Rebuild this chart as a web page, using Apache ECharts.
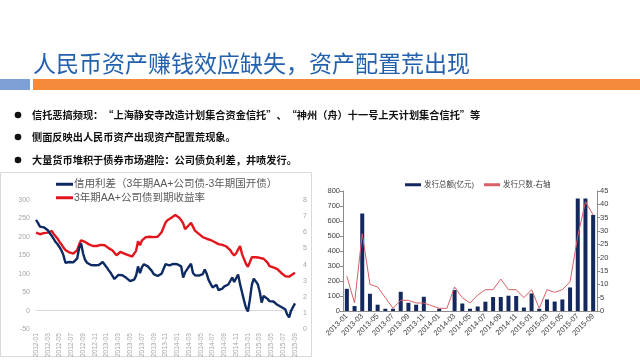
<!DOCTYPE html>
<html><head><meta charset="utf-8">
<script src="https://cdn.jsdelivr.net/npm/echarts@6/dist/echarts.min.js"></script>
<style>html,body{margin:0;padding:0;background:#fff;}#c{width:640px;height:360px;}</style>
</head><body><div id="c"></div>
<script>
// ---------- slide text ----------
const titleText = '人民币资产赚钱效应缺失，资产配置荒出现';
const bulletTexts = [
  '信托恶搞频现：“上海静安寺改造计划集合资金信托”、“神州（舟）十一号上天计划集合信托”等',
  '侧面反映出人民币资产出现资产配置荒现象。',
  '大量货币堆积于债券市场避险：公司债负利差，井喷发行。'
];

// ---------- left chart ----------
const spreadName = '信用利差（3年期AA+公司债-3年期国开债）';
const yieldName = '3年期AA+公司债到期收益率';
const spreadMonths = ['2012-01','2012-02','2012-03','2012-04','2012-05','2012-06','2012-07','2012-08','2012-09','2012-10','2012-11','2012-12',
  '2013-01','2013-02','2013-03','2013-04','2013-05','2013-06','2013-07','2013-08','2013-09','2013-10','2013-11','2013-12',
  '2014-01','2014-02','2014-03','2014-04','2014-05','2014-06','2014-07','2014-08','2014-09','2014-10','2014-11','2014-12',
  '2015-01','2015-02','2015-03','2015-04','2015-05','2015-06','2015-07','2015-08','2015-09'];
const sampleDays = ['01','11','21'];
// spread in bp (left axis), three readings per month
const spreadValues = [
  246,238,228, 230,226,222, 218,210,203, 195,186,180, 172,163,150, 130,128,132,
  129,131,127, 142,170,182, 155,138,130, 125,124,126, 123,121,124, 122,132,128,
  118,110,103, 94,86,82, 97,100,96, 92,89,86, 80,77,84, 95,120,102,
  118,126,124, 120,114,108, 99,96,94, 96,100,104, 126,130,123, 126,127,122,
  126,131,120, 90,104,112, 120,127,102, 96,92,95, 97,99,112, 100,83,80,
  63,68,70, 56,54,60, 66,70,71, 72,90,78, 88,98,72, 50,28,8,
  -2,30,70, 87,82,72, 52,22,40, 35,32,26, 28,25,20, 16,12,10,
  8,4,-10, -18,0,10, 20
];
// yield in % (right axis)
const yieldValues = [
  5.98,5.92,5.88, 5.90,5.95,6.00, 5.98,6.05,6.08, 5.90,5.75,5.60, 5.40,5.25,5.05, 4.90,4.80,4.75,
  4.72,4.68,4.70, 4.90,5.25,5.50, 5.45,5.40,5.35, 5.25,5.18,5.15, 5.17,5.15,5.20, 5.22,5.28,5.20,
  5.10,5.02,4.95, 4.87,4.75,4.58, 4.70,4.78,4.72, 4.68,4.62,4.58, 4.56,4.50,4.55, 4.85,5.45,5.20,
  5.50,5.60,5.70, 5.78,5.72,5.68, 5.70,5.75,5.72, 5.80,6.00,6.30, 6.60,6.75,6.82, 6.90,7.00,7.08,
  7.00,6.90,6.75, 6.55,6.20,6.30, 6.45,6.58,6.35, 6.10,6.00,5.90, 5.82,5.70,5.65, 5.60,5.58,5.52,
  5.48,5.40,5.32, 5.27,5.24,5.22, 5.20,5.12,5.05, 4.90,4.70,4.56, 4.70,4.80,5.15, 4.65,4.35,4.05,
  3.86,4.15,4.45, 4.47,4.45,4.42, 4.42,4.40,4.36, 4.25,4.12,3.90, 3.84,3.82,3.80, 3.72,3.60,3.48,
  3.38,3.28,3.16, 3.25,3.33,3.42, 3.50
];

// ---------- right chart ----------
const issueAmountName = '发行总额(亿元)';
const issueCountName = '发行只数-右轴';
const issueMonths = ['2013-01','2013-02','2013-03','2013-04','2013-05','2013-06','2013-07','2013-08','2013-09','2013-10','2013-11','2013-12',
  '2014-01','2014-02','2014-03','2014-04','2014-05','2014-06','2014-07','2014-08','2014-09','2014-10','2014-11','2014-12',
  '2015-01','2015-02','2015-03','2015-04','2015-05','2015-06','2015-07','2015-08','2015-09'];
const issueAmount = [148,33,650,115,42,15,15,128,55,42,95,0, 15,0,140,50,15,30,62,93,93,102,100,23, 117,15,77,63,77,157,750,750,640];
const issueCount  = [13,3,29,10,9,5,1,4,4,3,3,2, 1,1,9,5,3,6,8,8,12,8,8,5, 8,1,8,7,8,11,28,41,36];

// build category list for the daily-ish left chart
const spreadDates = [];
spreadMonths.forEach(m => sampleDays.forEach(d => spreadDates.push(m + '-' + d)));
spreadDates.length = spreadValues.length;

const FONT = '"Liberation Sans","Noto Sans CJK SC",sans-serif';
const CJK = '"Noto Sans CJK SC",sans-serif';

const chart = echarts.init(document.getElementById('c'), null, {renderer: 'canvas'});

const graphics = [
  {type: 'rect', shape: {x: 0.5, y: 172.5, width: 311, height: 184}, style: {fill: 'none', stroke: '#d9d9d9', lineWidth: 1}, z: 0},
  {type: 'text', x: 33, y: 63, style: {text: titleText, font: 'normal 23px ' + CJK, fill: '#2461ad', textVerticalAlign: 'middle'}},
  {type: 'rect', shape: {x: 0, y: 79, width: 30, height: 11}, style: {fill: '#7e9fd5'}},
  {type: 'rect', shape: {x: 33, y: 79, width: 607, height: 11}, style: {fill: '#f68a3b'}}
];
const bulletY = [115, 137, 160];
bulletTexts.forEach((t, i) => {
  graphics.push({type: 'circle', shape: {cx: 18, cy: bulletY[i], r: 3.3}, style: {fill: '#111'}});
  graphics.push({type: 'text', x: 32, y: bulletY[i], style: {text: t, font: 'bold 10.2px ' + CJK, fill: '#111', textVerticalAlign: 'middle'}});
});

const option = {
  animation: false,
  textStyle: {fontFamily: FONT},
  graphic: graphics,
  legend: [
    {
      data: [{name: spreadName, icon: 'rect'}, {name: yieldName, icon: 'rect'}],
      orient: 'vertical', left: 51, top: 174, itemWidth: 17, itemHeight: 3, itemGap: 3,
      textStyle: {fontSize: 10.5, color: '#595959', fontFamily: FONT, padding: [0, 0, 0, -4]}
    },
    {
      data: [{name: issueAmountName, icon: 'rect'}, {name: issueCountName, icon: 'rect'}],
      left: 400, top: 176, itemWidth: 16, itemHeight: 3, itemGap: 10,
      textStyle: {fontSize: 7.5, color: '#404040', fontFamily: FONT, padding: [0, 0, 0, -2]}
    }
  ],
  grid: [
    {left: 36, top: 200, width: 259, height: 132},
    {left: 343, top: 191, width: 254, height: 120}
  ],
  xAxis: [
    {
      type: 'category', gridIndex: 0, data: spreadDates, boundaryGap: false,
      axisLine: {onZero: true, lineStyle: {color: '#d9d9d9', width: 1}},
      axisTick: {show: false},
      axisLabel: {interval: 5, rotate: 90, fontSize: 6.5, color: '#a6a6a6', margin: 4,
        formatter: v => v.slice(0, 7)}
    },
    {
      type: 'category', gridIndex: 1, data: issueMonths, boundaryGap: true,
      axisLine: {lineStyle: {color: '#8c8c8c', width: 1}},
      axisTick: {show: false},
      axisLabel: {interval: 1, rotate: 45, fontSize: 7.5, color: '#404040', margin: 4}
    }
  ],
  yAxis: [
    {
      type: 'value', gridIndex: 0, min: -50, max: 300, interval: 50,
      axisLine: {show: false}, axisTick: {show: false}, splitLine: {show: false},
      axisLabel: {fontSize: 7, color: '#a6a6a6', margin: 6}
    },
    {
      type: 'value', gridIndex: 0, position: 'right', min: 0, max: 8, interval: 1,
      axisLine: {show: false}, axisTick: {show: false}, splitLine: {show: false},
      axisLabel: {fontSize: 7, color: '#a6a6a6', margin: 8}
    },
    {
      type: 'value', gridIndex: 1, min: 0, max: 800, interval: 100,
      axisLine: {show: true, lineStyle: {color: '#8c8c8c'}},
      axisTick: {show: true, length: 3, lineStyle: {color: '#8c8c8c'}},
      splitLine: {show: false},
      axisLabel: {fontSize: 7.5, color: '#404040', margin: 3}
    },
    {
      type: 'value', gridIndex: 1, position: 'right', min: 0, max: 45, interval: 5,
      axisLine: {show: true, lineStyle: {color: '#8c8c8c'}},
      axisTick: {show: true, length: 3, lineStyle: {color: '#8c8c8c'}},
      splitLine: {show: false},
      axisLabel: {fontSize: 7.5, color: '#404040', margin: 3}
    }
  ],
  series: [
    {
      name: yieldName, type: 'line', xAxisIndex: 0, yAxisIndex: 1, data: yieldValues,
      showSymbol: false, symbol: 'none', color: '#e3151c', lineStyle: {width: 2.4, color: '#e3151c'}
    },
    {
      name: spreadName, type: 'line', xAxisIndex: 0, yAxisIndex: 0, data: spreadValues,
      showSymbol: false, symbol: 'none', color: '#0e2a62', lineStyle: {width: 2.4, color: '#0e2a62'}
    },
    {
      name: issueAmountName, type: 'bar', xAxisIndex: 1, yAxisIndex: 2, data: issueAmount,
      barWidth: 4, color: '#13285c', itemStyle: {color: '#13285c'}
    },
    {
      name: issueCountName, type: 'line', xAxisIndex: 1, yAxisIndex: 3, data: issueCount,
      showSymbol: false, symbol: 'none', color: '#d85f68', lineStyle: {width: 1, color: '#d85f68'}, z: 3
    }
  ]
};
chart.setOption(option);
</script>
</body></html>
